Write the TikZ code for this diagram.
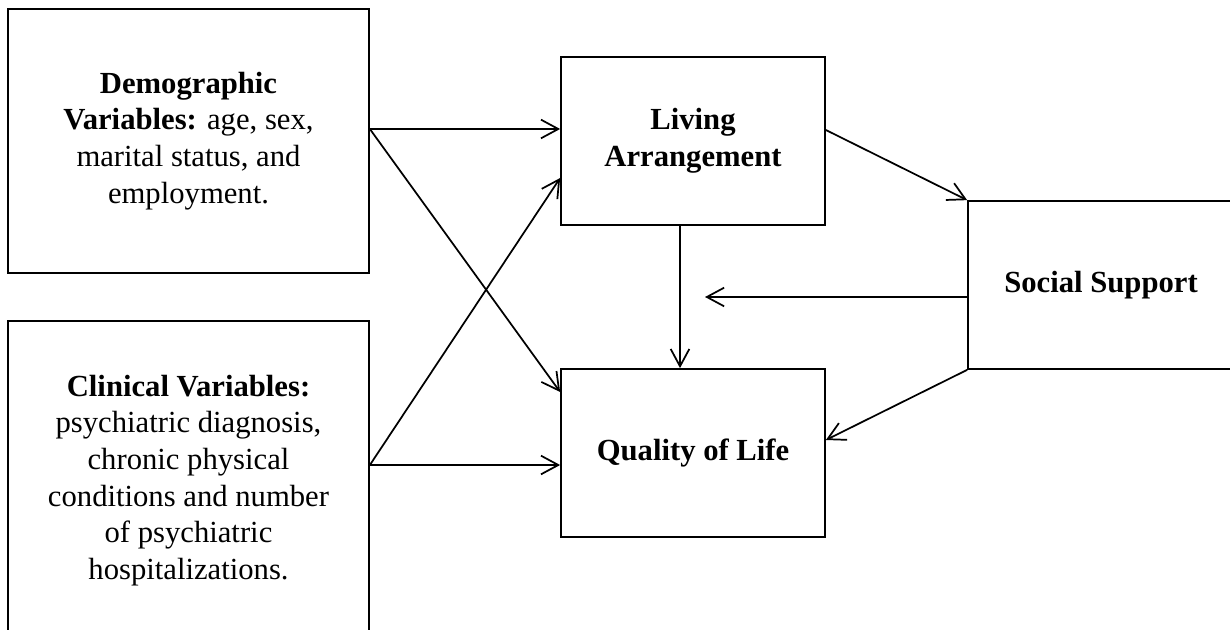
\documentclass[tikz,border=0pt]{standalone}
\usepackage{fontspec}
\setmainfont{Liberation Serif}
\usetikzlibrary{arrows.meta}
\begin{document}
\begin{tikzpicture}[x=0.75pt,y=-0.75pt,
  box/.style={draw,line width=1.3pt,inner sep=0pt,align=center,font=\fontsize{23}{27.5}\selectfont},
  arr/.style={line width=1.3pt,-{Straight Barb[length=13pt,width=14pt,line width=1.3pt]}}]
\useasboundingbox (0,0) rectangle (1230,630);
\node[box,minimum width=270.75pt,minimum height=198pt] (demo) at (188.5,141)
  {\textbf{Demographic}\\\textbf{Variables:} age, sex,\\marital status, and\\employment.};
\node[box,minimum width=270.75pt,minimum height=239.25pt] (clin) at (188.5,480.5)
  {\textbf{Clinical Variables:}\\psychiatric diagnosis,\\chronic physical\\conditions and number\\of psychiatric\\hospitalizations.};
\node[box,minimum width=198pt,minimum height=126pt] (la) at (693,141)
  {\textbf{Living}\\\textbf{Arrangement}};
\node[box,minimum width=198pt,minimum height=126pt] (ql) at (693,453)
  {\textbf{Quality of Life}};
\node[box,minimum width=199.5pt,minimum height=126pt] (ss) at (1101,285)
  {\textbf{Social Support}};
\coordinate (ssend) at (705,297);
\draw[arr] ([yshift=9pt]demo.east) -- ([yshift=9pt]la.west);
\draw[arr] ([yshift=9pt]demo.east) -- ([yshift=45.75pt]ql.west);
\draw[arr] ([yshift=11.6pt]clin.east) -- ([yshift=-9pt]ql.west);
\draw[arr] ([yshift=11.6pt]clin.east) -- ([yshift=-27.75pt]la.west);
\draw[arr] ([xshift=-9.75pt]la.south) -- ([xshift=-9.75pt]ql.north);
\draw[arr] ([yshift=-9pt]ss.west) -- (ssend);
\draw[arr] ([yshift=8.25pt]la.east) -- (ss.north west);
\draw[arr] (ss.south west) -- ([yshift=9.75pt]ql.east);
\end{tikzpicture}
\end{document}
